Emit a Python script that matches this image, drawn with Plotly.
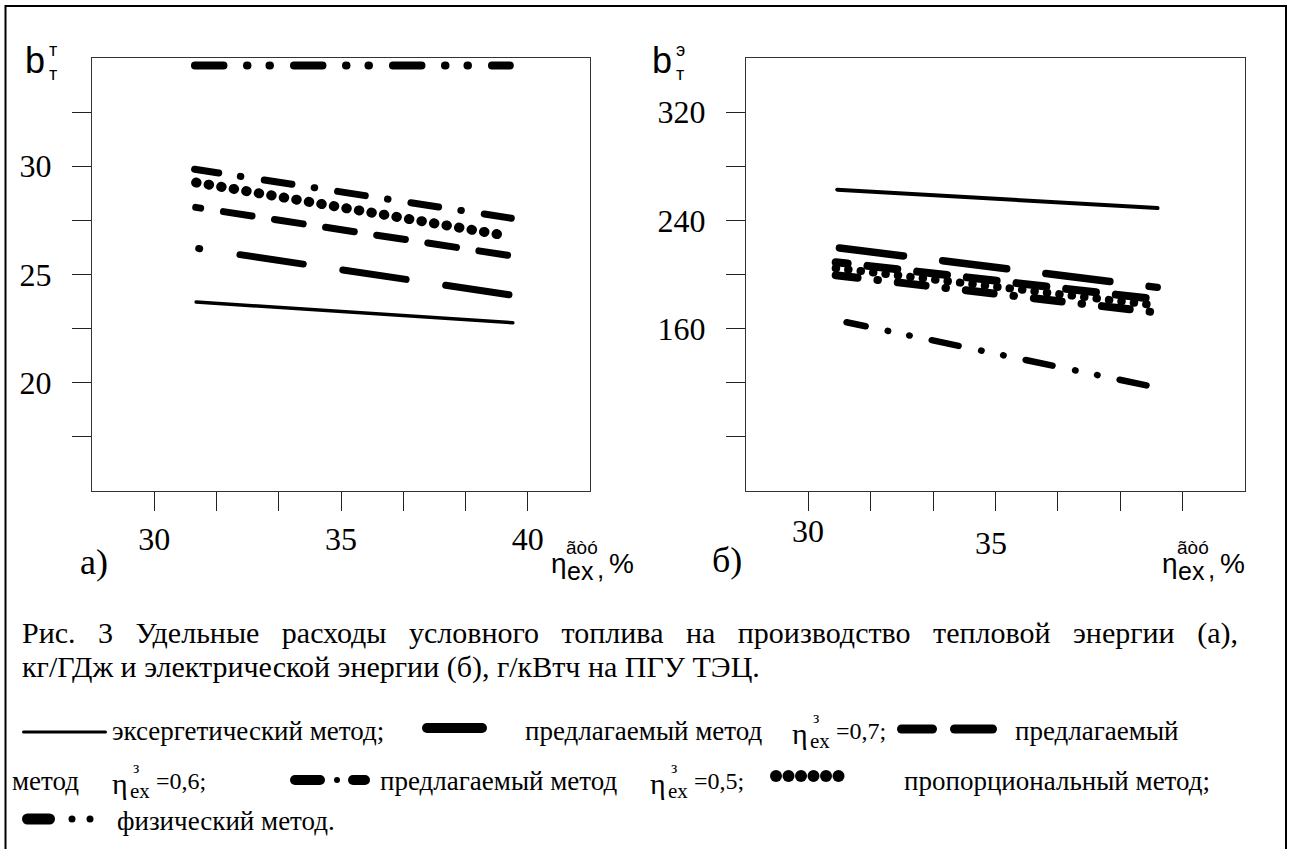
import plotly.graph_objects as go

W, H = 1289, 849
SERIF = "Liberation Serif"
SANS = "Liberation Sans"

# ---------------- data ----------------
# panel а): heat, kg/GJ  vs  exergy efficiency, %
a_exergy_x = [31.12, 39.60]
a_exergy_y = [23.73, 22.77]
a_p07_x = [31.19, 39.56]
a_p07_y = [26.20, 24.05]
a_p06_x = [31.11, 39.53]
a_p06_y = [28.10, 25.87]
a_prop_x = [31.12, 39.33]
a_prop_y = [29.25, 26.82]
a_p05_x = [31.08, 39.56]
a_p05_y = [29.86, 27.60]
a_phys_x = [31.09, 39.52]
a_phys_y = [34.65, 34.65]

# panel б): electricity, g/kWh
b_exergy_x = [30.77, 39.33]
b_exergy_y = [262.7, 249.1]
b_p07_x = [30.83, 39.32]
b_p07_y = [219.6, 190.5]
b_p06_x = [30.73, 39.32]
b_p06_y = [209.1, 181.6]
b_prop_x = [30.73, 39.32]
b_prop_y = [204.7, 177.1]
b_p05_x = [30.73, 39.32]
b_p05_y = [199.5, 171.9]
b_phys_x = [31.02, 39.11]
b_phys_y = [164.7, 117.6]

x_tick_vals = [30, 31.667, 33.333, 35, 36.667, 38.333, 40]
a_x_tick_text = ["30", "", "", "35", "", "", "40"]
b_x_label_vals = [30, 35]
b_x_label_text = ["30", "35"]
a_y_tick_vals = [17.5, 20, 22.5, 25, 27.5, 30, 32.5]
a_y_tick_text = ["", "20", "", "25", "", "30", ""]
b_y_tick_vals = [80, 120, 160, 200, 240, 280, 320]
b_y_tick_text = ["", "", "160", "", "240", "", "320"]

# ---------------- helpers ----------------
ROUND = True  # round line caps are applied in the page (post_script)


def dashes(first, period, w, total=700):
    seq = list(first)
    while sum(l for l, _ in seq) < total:
        seq += period
    out = []
    for l, on in seq:
        if ROUND:
            l = max(l - w, 0.5) if on else l + w
        out.append(f"{l:.1f}px")
    return ",".join(out)


def fx(px):
    return px / W


def fy(py):
    return 1 - py / H


fig = go.Figure()


def add_line(x, y, w, dash, xa, ya):
    fig.add_trace(go.Scatter(
        x=x, y=y, mode="lines", xaxis=xa, yaxis=ya,
        line=dict(color="black", width=w, dash=dash),
        showlegend=False, hoverinfo="skip"))


ON, OFF = True, False
# panel a
add_line(a_exergy_x, a_exergy_y, 3.5, "solid", "x", "y")
add_line(a_p07_x, a_p07_y, 7, dashes([(8, ON), (33.7, OFF)], [(71, ON), (33, OFF)], 7), "x", "y")
add_line(a_p06_x, a_p06_y, 7, dashes([(12, ON), (16, OFF)], [(36, ON), (15.7, OFF)], 7), "x", "y")
add_line(a_prop_x, a_prop_y, 10, dashes([], [(10.5, ON), (2.2, OFF)], 10), "x", "y")
add_line(a_p05_x, a_p05_y, 7, dashes([(31.4, ON), (14.9, OFF), (7, ON), (16.7, OFF)],
                                     [(35, ON), (15.5, OFF), (7, ON), (16.2, OFF)], 7), "x", "y")
add_line(a_phys_x, a_phys_y, 8, dashes([], [(36.5, ON), (15.5, OFF), (8, ON), (14, OFF), (8, ON), (16, OFF)], 8), "x", "y")
# panel b
add_line(b_exergy_x, b_exergy_y, 4, "solid", "x2", "y2")
add_line(b_p07_x, b_p07_y, 7.5, dashes([], [(72, ON), (32, OFF)], 7.5), "x2", "y2")
add_line(b_p06_x, b_p06_y, 8, dashes([(20, ON), (12, OFF)], [(38, ON), (12, OFF)], 8), "x2", "y2")
add_line(b_prop_x, b_prop_y, 8, dashes([], [(8.5, ON), (4, OFF)], 8), "x2", "y2")
add_line(b_p05_x, b_p05_y, 8, dashes([(30, ON), (12, OFF), (8, ON), (12, OFF)],
                                     [(36, ON), (12, OFF), (8, ON), (12, OFF)], 8), "x2", "y2")
add_line(b_phys_x, b_phys_y, 6.5, dashes([(26, ON), (16, OFF), (6.5, ON), (15, OFF), (6.5, ON), (16, OFF)],
                                         [(34, ON), (16.5, OFF), (6.5, ON), (15.5, OFF), (6.5, ON), (16, OFF)], 6.5), "x2", "y2")

axis_common = dict(showgrid=False, zeroline=False, showline=True, mirror=True,
                   linecolor="#333333", linewidth=1.3, ticks="outside", ticklen=19,
                   tickwidth=1.3, tickcolor="#222222",
                   tickfont=dict(family=SERIF, size=32, color="black"))

ydom = [fy(491), fy(58)]
fig.update_layout(
    width=W, height=H, margin=dict(l=0, r=0, t=0, b=0),
    font=dict(family=SERIF, color="black"),
    paper_bgcolor="white", plot_bgcolor="white",
    xaxis=dict(domain=[fx(92), fx(590)], range=[28.333, 41.667], anchor="y",
               tickvals=x_tick_vals, ticktext=a_x_tick_text, **axis_common),
    yaxis=dict(domain=ydom, range=[15, 35], anchor="x",
               tickvals=a_y_tick_vals, ticktext=a_y_tick_text, ticklabelstandoff=14, **axis_common),
    xaxis2=dict(domain=[fx(746), fx(1245)], range=[28.333, 41.667], anchor="y2",
                tickvals=x_tick_vals, showticklabels=False, **axis_common),
    yaxis2=dict(domain=ydom, range=[40, 360], anchor="x2",
                tickvals=b_y_tick_vals, ticktext=b_y_tick_text, ticklabelstandoff=14, **axis_common),
)

ann = []


def A(text, px, py, size, family=SERIF, xanchor="left", yanchor="middle", **kw):
    d = dict(text=text, x=fx(px), y=fy(py), xref="paper", yref="paper",
             showarrow=False, xanchor=xanchor, yanchor=yanchor,
             font=dict(family=family, size=size, color="black"))
    d.update(kw)
    ann.append(d)


# right panel x tick labels (drawn at different heights in the original)
for v, t, dy, sh in zip(b_x_label_vals, b_x_label_text, [531, 543], [0, -5]):
    ann.append(dict(text=t, x=v, xref="x2", y=fy(dy), yref="paper", showarrow=False,
                    xanchor="center", yanchor="middle", xshift=sh,
                    font=dict(family=SERIF, size=32, color="black")))

# axis titles
A("b", 35, 60, 36, SANS, xanchor="center")
A("т", 53, 50, 18, SANS, xanchor="center")
A("т", 53, 74, 18, SANS, xanchor="center")
A("b", 662, 60, 36, SANS, xanchor="center")
A("э", 680, 50, 18, SANS, xanchor="center")
A("т", 680, 74, 18, SANS, xanchor="center")


def eta_label(x0, y0):
    A("η", x0, y0, 28, SANS)
    A("ex", x0 + 16, y0 + 8, 25, SANS)
    A("ãòó", x0 + 15, y0 - 16, 19, SANS)
    A(",", x0 + 46, y0 + 6, 26, SANS)
    A("%", x0 + 58, y0, 28, SANS)


eta_label(549, 563)
eta_label(1160, 563)

A("а)", 94, 562, 36, SERIF, xanchor="center")
A("б)", 727, 560, 36, SERIF, xanchor="center")

# caption (justified line imitated with wider word gaps)
NB = "\u00a0"
line1_words = ["Рис.", "3", "Удельные", "расходы", "условного", "топлива", "на",
               "производство", "тепловой", "энергии", "(а),"]
A((NB * 3).join(line1_words), 20, 633, 30)
A("кг/ГДж и электрической энергии (б), г/кВтч на ПГУ ТЭЦ.", 20, 667, 30)

LF = 27


def eta_sym(x0, y0, val):
    A("η", x0, y0 + 2, 30, SERIF)
    A("ex", x0 + 18, y0 + 10, 21, SERIF)
    A("з", x0 + 21, y0 - 14, 16, SERIF)
    A(val, x0 + 44, y0, 24, SERIF)


# legend line 1
A("эксергетический метод;", 110, 731, LF)
A("предлагаемый метод", 523, 731, LF)
eta_sym(790, 731, "=0,7;")
A("предлагаемый", 1013, 731, LF)
# legend line 2
A("метод", 10, 781, LF)
eta_sym(110, 781, "=0,6;")
A("предлагаемый метод", 378, 781, LF)
eta_sym(648, 781, "=0,5;")
A("пропорциональный метод;", 902, 781, LF)
# legend line 3
A("физический метод.", 115, 821, LF)

shapes = []


def seg(a, b, y, w):
    shapes.append(dict(type="line", xref="paper", yref="paper",
                       x0=fx(a + w / 2), x1=fx(b - w / 2), y0=fy(y), y1=fy(y),
                       line=dict(color="black", width=w)))


def dot(cx, cy, d):
    shapes.append(dict(type="circle", xref="paper", yref="paper",
                       x0=fx(cx - d / 2), x1=fx(cx + d / 2), y0=fy(cy + d / 2), y1=fy(cy - d / 2),
                       fillcolor="black", line=dict(width=0)))


seg(22, 107, 732, 3)
seg(422, 487, 728, 10)
seg(897, 937, 729, 9)
seg(950, 997, 729, 9)
seg(290, 325, 780, 10)
dot(337, 780, 6)
seg(348, 370, 780, 10)
for i in range(6):
    dot(776 + 12.5 * i, 776, 12)
seg(22, 55, 819, 11)
dot(72, 819, 7)
dot(90, 819, 7)

# outer frame
shapes.append(dict(type="rect", xref="paper", yref="paper",
                   x0=fx(5.5), x1=fx(1286), y0=fy(6), y1=-0.05,
                   line=dict(color="black", width=2), fillcolor="rgba(0,0,0,0)"))

fig.update_layout(annotations=ann, shapes=shapes)

post = """
document.body.style.margin='0';
var gd = document.getElementById('{plot_id}');
gd.querySelectorAll('path.js-line').forEach(function(p){p.style.strokeLinecap='round';});
gd.querySelectorAll('.shapelayer path').forEach(function(p){p.style.strokeLinecap='round';});
"""
fig.write_html("out.html", post_script=post, config={"displayModeBar": False})
